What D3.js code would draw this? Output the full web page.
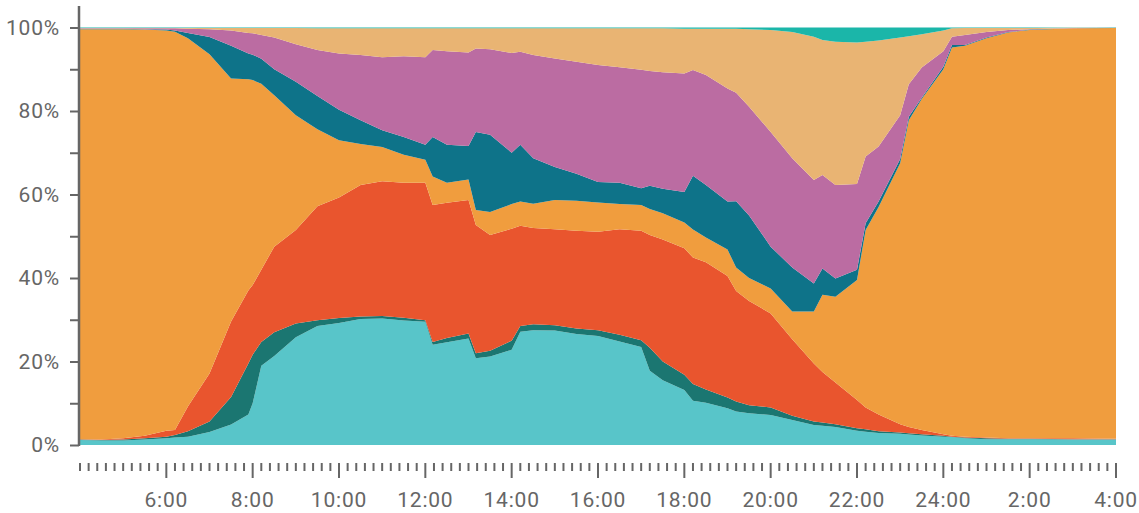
<!DOCTYPE html>
<html>
<head>
<meta charset="utf-8">
<script src="https://cdn.jsdelivr.net/npm/d3@7"></script>
<style>
body { margin: 0; background: #fff; }
text { font-family: Roboto, "DejaVu Sans", sans-serif; letter-spacing: 0.8px; }
</style>
</head>
<body>
<script>
width = 1139
height = 513

// time of day in hours (4 = 4:00, 28 = 4:00 next day)
times = [4, 4.5, 5, 5.5, 6, 6.2, 6.5, 7, 7.5, 7.9, 8, 8.2, 8.5, 9, 9.5, 10, 10.5, 11, 11.5, 12,
  12.17, 12.5, 13, 13.17, 13.5, 14, 14.2, 14.5, 15, 15.5, 16, 16.5, 17, 17.2, 17.5, 18, 18.2, 18.5, 19, 19.2,
  19.5, 20, 20.5, 21, 21.2, 21.5, 22, 22.2, 22.5, 23, 23.2, 23.5, 24, 24.2, 24.5, 25, 25.5, 26, 27, 28]

// shares in % (bottom to top)
cyan = [1.2,1.1,1.1,1.3,1.6,1.8,2.0,3.1,4.9,7.3, 10.0,19.0,21.3,25.8,28.5,29.2,30.2,30.3,29.8,29.5,
  24.0,24.6,25.5,20.8,21.2,22.8,27.1,27.5,27.4,26.6, 26.1,24.8,23.5,17.8,15.5,13.2,10.6,10.1,8.8,8.0,
  7.6,7.2,6.0,4.8,4.6,4.3,3.4,3.2,2.9,2.7, 2.5,2.3,2.0,1.9,1.6,1.4,1.4,1.4,1.3,1.3]
darkTeal = [0.1,0.1,0.2,0.3,0.4,0.6,1.3,2.5,6.6,12.2, 11.6,5.7,5.7,3.3,1.4,1.2,0.6,0.6,0.7,0.4,
  0.7,1.0,1.2,1.2,1.4,2.2,1.4,1.4,1.3,1.3, 1.4,1.6,1.6,5.5,4.5,3.6,4.0,3.2,2.6,2.4,
  1.9,1.8,1.0,0.8,0.8,0.7,0.6,0.6,0.4,0.3, 0.3,0.3,0.2,0.1,0.2,0.2,0.1,0.1,0.1,0.1]
red = [0.1,0.1,0.3,0.6,1.4,1.2,5.9,11.5,18.1,17.5, 16.7,17.3,20.5,22.4,27.3,28.9,31.5,32.3,32.3,32.9,
  32.8,32.4,32.0,30.7,27.7,26.8,24.0,23.1,23.0,23.4, 23.6,25.3,26.2,27.0,29.2,30.3,30.3,30.5,29.1,26.5,
  25.0,22.5,18.3,13.9,12.1,10.0,6.8,5.2,4.0,2.0, 1.5,1.0,0.4,0.2,0.2,0.2,0.1,0.1,0.2,0.1]
orange = [98.2,98.3,98.0,97.3,95.9,95.4,88.2,76.5,58.2,50.6, 49.1,44.5,36.3,27.5,18.4,13.7,9.8,8.2,6.7,5.5,
  6.8,4.8,4.9,3.6,5.5,5.9,5.8,5.8,7.0,7.2, 7.0,6.0,6.2,6.2,6.3,6.2,6.7,5.9,6.3,5.6,
  5.5,6.0,6.7,12.5,18.5,20.5,28.7,42.5,49.7,62.5, 73.5,79.3,87.4,93.0,93.6,95.6,97.2,97.8,98.2,98.4]
blue = [0.1,0.1,0.1,0.1,0.2,0.3,1.3,4.1,7.8,6.2, 6.1,6.0,6.2,8.0,8.0,7.3,5.7,4.0,4.3,3.6,
  9.5,9.1,8.0,18.7,18.5,12.3,13.6,10.9,7.9,6.5, 4.9,5.1,4.0,5.6,5.9,7.3,12.9,12.6,11.5,15.9,
  15.0,10.0,10.5,6.7,6.3,4.4,2.5,1.6,1.3,1.0, 0.8,0.3,0.6,0.6,0.2,0.2,0.1,0.1,0.05,0.02]
purple = [0.1,0.1,0.1,0.2,0.3,0.5,1.0,1.9,3.7,4.9, 5.1,5.7,7.6,9.0,11.0,13.5,15.6,17.5,19.3,21.0,
  20.8,22.4,22.4,20.0,20.5,23.9,22.3,24.7,26.0,26.8, 28.0,27.7,28.4,27.5,27.9,28.4,25.3,26.3,27.1,26.0,
  26.0,27.5,26.2,24.8,22.4,22.4,20.5,16.0,13.2,10.5, 7.8,7.2,3.7,2.0,2.4,1.3,0.5,0.1,0.05,0.03]
tan = [0.1,0.1,0.1,0.1,0.1,0.1,0.2,0.3,0.6,1.2, 1.3,1.7,2.3,3.9,5.2,6.0,6.4,6.9,6.7,6.9,
  5.2,5.5,5.8,4.8,5.0,5.9,5.6,6.4,7.2,8.0, 8.8,9.3,9.9,10.2,10.5,10.7,9.9,11.1,14.3,15.3,
  18.6,24.4,30.2,34.3,32.3,34.3,33.9,27.5,25.4,18.6, 11.5,8.0,5.0,2.0,1.7,1.0,0.5,0.3,0.05,0.02]
topTeal = [0.1,0.1,0.1,0.1,0.1,0.1,0.1,0.1,0.1,0.1, 0.1,0.1,0.1,0.1,0.2,0.2,0.2,0.2,0.2,0.2,
  0.2,0.2,0.2,0.2,0.2,0.2,0.2,0.2,0.2,0.2, 0.2,0.2,0.2,0.2,0.2,0.3,0.3,0.3,0.3,0.3,
  0.4,0.6,1.1,2.2,3.0,3.4,3.6,3.4,3.1,2.4, 2.1,1.6,0.7,0.2,0.1,0.1,0.1,0.1,0.05,0.03]

keys = ["cyan", "darkTeal", "red", "orange", "blue", "purple", "tan", "topTeal"]
colors = ["#58c5c9", "#1b7671", "#e9552e", "#f09d3e", "#0e7389", "#bb6ca2", "#e9b473", "#1bb6a9"]
series = [cyan, darkTeal, red, orange, blue, purple, tan, topTeal]

// rows for the stack
rows = times.map(function(t, i) {
    let r = {time: t}
    keys.forEach(function(k, j) { r[k] = series[j][i] })
    return r
})

x = d3.scaleLinear().domain([4, 28]).range([80, 1116])
y = d3.scaleLinear().domain([0, 1]).range([445, 27.5])

svg = d3.select("body")
    .append("svg")
    .attr("width", width)
    .attr("height", height)

stack = d3.stack().keys(keys).offset(d3.stackOffsetExpand)
layers = stack(rows)

area = d3.area()
    .x(d => x(d.data.time))
    .y0(d => y(d[0]))
    .y1(d => y(d[1]))

svg.selectAll("path.layer")
    .data(layers)
    .enter()
    .append("path")
    .attr("class", "layer")
    .attr("d", area)
    .attr("fill", (d, i) => colors[i])

// y axis
yTicks = d3.range(0, 11).map(i => i / 10)
yAxis = d3.axisLeft(y)
    .tickValues(yTicks)
    .tickSize(9)
    .tickPadding(10)
    .tickFormat(d => Math.round(d * 100) % 20 == 0 ? Math.round(d * 100) + "%" : "")

gy = svg.append("g")
    .attr("transform", "translate(79,0)")
    .call(yAxis)
gy.select(".domain").remove()
gy.selectAll(".tick line").attr("stroke", "#666").attr("stroke-width", 2)
gy.selectAll(".tick text").attr("fill", "#666").attr("font-size", 21)
gy.append("line")
    .attr("x1", 0).attr("x2", 0)
    .attr("y1", 6).attr("y2", 446)
    .attr("stroke", "#666")
    .attr("stroke-width", 2.5)

// x axis, a tick every 12 minutes
xTicks = d3.range(0, 121).map(i => 4 + i * 0.2)
gx = svg.append("g").attr("transform", "translate(0,463)")
gx.selectAll("line")
    .data(xTicks)
    .enter()
    .append("line")
    .attr("x1", d => x(d))
    .attr("x2", d => x(d))
    .attr("y1", 0)
    .attr("y2", (d, i) => (i > 0 && i % 10 == 0) ? 15 : 8)
    .attr("stroke", "#666")
    .attr("stroke-width", 2)

xLabels = d3.range(6, 29, 2)
gx.selectAll("text")
    .data(xLabels)
    .enter()
    .append("text")
    .attr("x", d => x(d))
    .attr("y", 44)
    .attr("text-anchor", "middle")
    .attr("fill", "#666")
    .attr("font-size", 21)
    .text(d => (d > 24 ? d - 24 : d) + ":00")
</script>
</body>
</html>
